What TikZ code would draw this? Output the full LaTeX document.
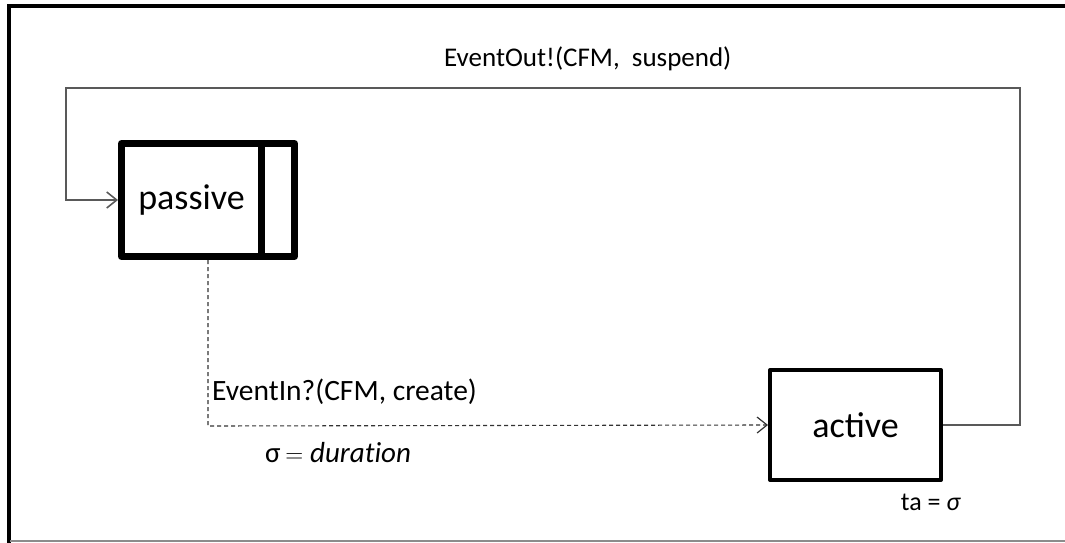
\documentclass[tikz,border=0pt]{standalone}
\usepackage{fontspec}
\setmainfont{Carlito}
\usetikzlibrary{arrows.meta}
\begin{document}
\begin{tikzpicture}[x=1pt,y=-1pt,
  statebox/.style={draw,rectangle,inner sep=0,line join=round,font=\fontsize{36}{40}\selectfont},
  lbl/.style={inner sep=0,font=\fontsize{27}{32}\selectfont},
  link/.style={draw=black!65,line width=1.6,-{Straight Barb[length=10,width=16,line width=1.6]}},
  evt/.style={draw=black!80,line width=1.1,dash pattern=on 4 off 3,-{Straight Barb[length=10,width=16,line width=1.2,sep=0]}}]
\useasboundingbox (0,0) rectangle (1065,543);
\draw[line width=4] (8.5,543)--(8.5,6)--(1065,6);\draw[black!45,line width=2] (10,541)--(1065,541);
% states
\node[statebox,line width=7,minimum width=140,minimum height=113] (passive) at (191.5,200) {passive};
\draw[line width=7,line join=round] (261.5,143.5) rectangle (294.5,256.5);
\node[statebox,line width=4,minimum width=171,minimum height=110] (active) at (855.5,425) {active};
% transitions
\coordinate (rt) at (1020,88);\coordinate (lt) at (66,88);\coordinate (dn) at (208,426);
\draw[link] (active.east) -| (rt) -- node[lbl,pos=0.453,above=16] (outlbl) {EventOut!(CFM,~~suspend)} (lt) |- (passive.west);
\draw[evt] (passive.south -| dn) -- (dn) -- (active.west);
\node[lbl,anchor=west,font=\fontsize{29.5}{34}\selectfont] (inlbl) at (212,392) {EventIn?(CFM, create)};
\node[lbl,font=\fontsize{29}{34}\selectfont] (dur) at (338,453) {σ\,$=\mathit{duration}$};
\node[lbl,font=\fontsize{26}{30}\selectfont] (ta) at (931,502) {ta = \textit{σ}};
\end{tikzpicture}
\end{document}
